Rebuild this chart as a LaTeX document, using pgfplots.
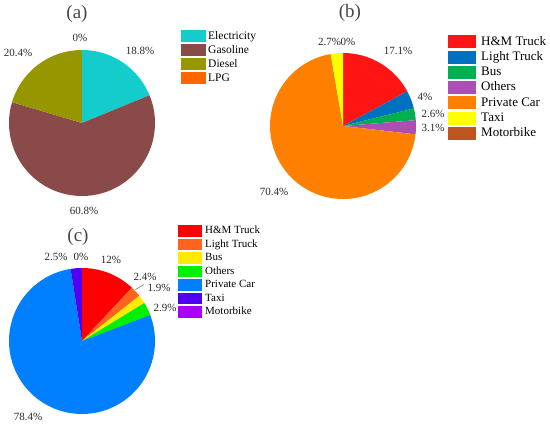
\documentclass[border=0pt]{standalone}
\usepackage{fontspec}
\setmainfont{Liberation Serif}
\usepackage{pgfplots}
\pgfplotsset{compat=1.18}
\usepgfplotslibrary{polar}

% colours
\definecolor{aElec}{RGB}{20,204,204}
\definecolor{aGas}{RGB}{139,74,74}
\definecolor{aDie}{RGB}{150,150,0}
\definecolor{aLPG}{RGB}{255,102,0}
\definecolor{bHM}{RGB}{255,20,20}
\definecolor{bLT}{RGB}{0,112,192}
\definecolor{bBus}{RGB}{0,176,80}
\definecolor{bOth}{RGB}{170,80,180}
\definecolor{bPC}{RGB}{255,128,0}
\definecolor{bTaxi}{RGB}{255,255,0}
\definecolor{bMoto}{RGB}{190,85,30}
\definecolor{cHM}{RGB}{255,0,0}
\definecolor{cLT}{RGB}{255,100,30}
\definecolor{cBus}{RGB}{255,235,0}
\definecolor{cOth}{RGB}{0,240,0}
\definecolor{cPC}{RGB}{0,128,255}
\definecolor{cTaxi}{RGB}{80,0,240}
\definecolor{cMoto}{RGB}{170,0,255}
\definecolor{txt}{RGB}{40,40,40}

% a slice: colour, cumulative % before, cumulative % after, total %
\newcommand{\slice}[4]{%
  \addplot[fill=#1, draw=none, domain=90-360*(#3)/(#4):90-360*(#2)/(#4), samples=90]
    {1} -- (axis cs:0,0) -- cycle;}

\pgfplotsset{
  pie/.style={width=146bp, height=146bp, scale only axis, hide axis,
    ymin=0, ymax=1, clip=false, anchor=center},
  pieleg/.style n args={4}{% box width, box height, font size, row pitch
    legend cell align=left,
    legend image code/.code={\path[##1] (0bp,0.22*#4-#2/2) rectangle (#1,0.22*#4+#2/2);},
    legend style={draw=none, fill=none, inner sep=0pt, row sep=0pt,
      font=\fontsize{#3}{#3}\selectfont,
      nodes={inner sep=0pt, text height=0.72*#4, text depth=0.28*#4, anchor=base west},
      /tikz/every odd column/.append style={column sep=2bp}}
  }
}

\begin{document}
\begin{tikzpicture}
\path[use as bounding box] (0bp,0bp) rectangle (550bp,-430bp);

% ---------------- (a) ----------------
% Electricity 18.8, Gasoline 60.8, Diesel 20.4, LPG 0
\begin{polaraxis}[pie, at={(82bp,-123bp)},
  pieleg={25bp}{12bp}{11.5bp}{14bp},
  legend style={at={(99bp,94bp)}, anchor=north west}]
\slice{aElec}{0}{18.8}{100}
\addlegendentry{Electricity}
\slice{aGas}{18.8}{79.6}{100}
\addlegendentry{Gasoline}
\slice{aDie}{79.6}{100}{100}
\addlegendentry{Diesel}
\addlegendimage{fill=aLPG, draw=none}
\addlegendentry{LPG}
\end{polaraxis}

% ---------------- (b) ----------------
% H&M 17.1, Light 4, Bus 2.6, Others 3.1, Private 70.4, Taxi 2.7, Motorbike 0
\begin{polaraxis}[pie, at={(343bp,-126bp)},
  pieleg={28bp}{13bp}{13bp}{15.3bp},
  legend style={at={(105bp,92.15bp)}, anchor=north west,
     /tikz/every odd column/.append style={column sep=5bp}}]
\slice{bHM}{0}{17.1}{99.9}
\addlegendentry{H\&M Truck}
\slice{bLT}{17.1}{21.1}{99.9}
\addlegendentry{Light Truck}
\slice{bBus}{21.1}{23.7}{99.9}
\addlegendentry{Bus}
\slice{bOth}{23.7}{26.8}{99.9}
\addlegendentry{Others}
\slice{bPC}{26.8}{97.2}{99.9}
\addlegendentry{Private Car}
\slice{bTaxi}{97.2}{99.9}{99.9}
\addlegendentry{Taxi}
\addlegendimage{fill=bMoto, draw=none}
\addlegendentry{Motorbike}
\end{polaraxis}

% ---------------- (c) ----------------
% H&M 12, Light 2.4, Bus 1.9, Others 2.9, Private 78.4, Taxi 2.5, Motorbike 0
\begin{polaraxis}[pie, at={(82bp,-341bp)},
  pieleg={24bp}{11.5bp}{11bp}{13.5bp},
  legend style={at={(96bp,117bp)}, anchor=north west,
     /tikz/every odd column/.append style={column sep=3bp}}]
\slice{cHM}{0}{12}{100.1}
\addlegendentry{H\&M Truck}
\slice{cLT}{12}{14.4}{100.1}
\addlegendentry{Light Truck}
\slice{cBus}{14.4}{16.3}{100.1}
\addlegendentry{Bus}
\slice{cOth}{16.3}{19.2}{100.1}
\addlegendentry{Others}
\slice{cPC}{19.2}{97.6}{100.1}
\addlegendentry{Private Car}
\slice{cTaxi}{97.6}{100.1}{100.1}
\addlegendentry{Taxi}
\addlegendimage{fill=cMoto, draw=none}
\addlegendentry{Motorbike}
\end{polaraxis}

% ---------------- titles and labels ----------------
\begin{scope}[x=1bp, y=-1bp, every node/.style={text=txt, inner sep=0pt,
   font=\fontsize{11bp}{11bp}\selectfont}]
\node[font=\fontsize{19bp}{19bp}\selectfont, text=black!72] at (77,14) {(a)};
\node[font=\fontsize{19bp}{19bp}\selectfont, text=black!72] at (350,13) {(b)};
\node[font=\fontsize{19bp}{19bp}\selectfont, text=black!72] at (78,237) {(c)};
% (a)
\node at (80,38) {0\%};
\node at (140,51) {18.8\%};
\node at (18,53) {20.4\%};
\node at (84,211) {60.8\%};
% (b)
\node at (329.5,42) {2.7\%};
\node at (348,42) {0\%};
\node at (398,51) {17.1\%};
\node at (425,97) {4\%};
\node at (433,114) {2.6\%};
\node at (433,128) {3.1\%};
\node at (274,192) {70.4\%};
% (c)
\node at (56,257) {2.5\%};
\node at (81,257) {0\%};
\node at (111,260) {12\%};
\node at (145,277) {2.4\%};
\node at (159,288) {1.9\%};
\node at (165,308) {2.9\%};
\node at (28,417) {78.4\%};
\draw[black!60, line width=0.5bp] (135.5,289.5) -- (144,284.5);
\end{scope}
\end{tikzpicture}
\end{document}
